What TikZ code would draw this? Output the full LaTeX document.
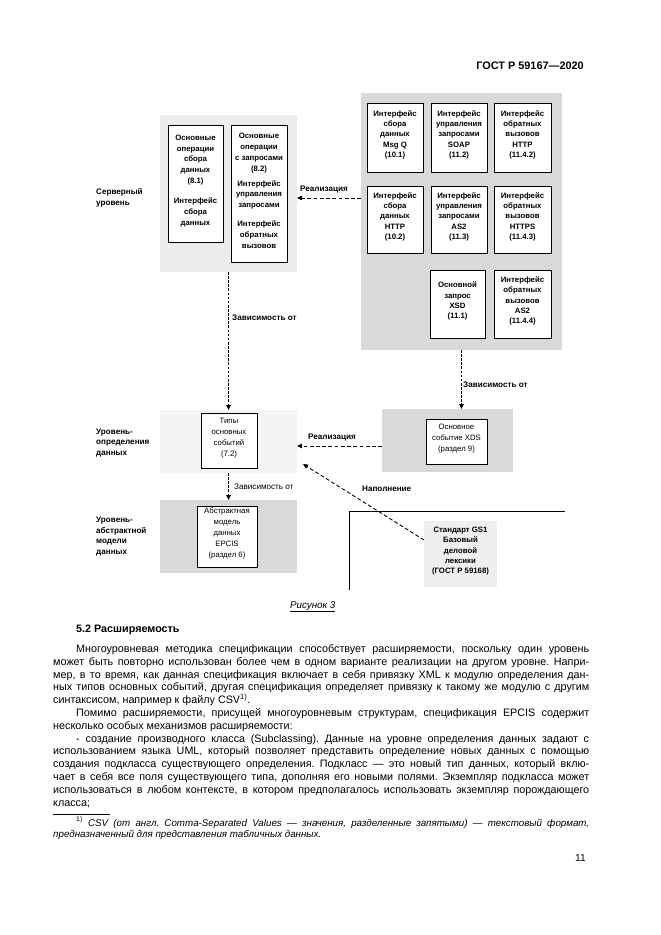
\documentclass[tikz,border=0pt]{standalone}
\usepackage{fontspec}
\setmainfont{Liberation Sans}
\usetikzlibrary{arrows.meta,fit}
\frenchspacing
\definecolor{pdark}{HTML}{D9D9D9}
\definecolor{plight}{HTML}{ECECEC}
\definecolor{pvlight}{HTML}{F4F4F4}
\definecolor{gsfill}{HTML}{EFEFEF}
\newcommand\fbx{\fontsize{7}{9.3}\selectfont\bfseries}
\newcommand\fbxr{\fontsize{7}{9.8}\selectfont\bfseries}
\newcommand\fbxn{\fontsize{7}{10}\selectfont}
\newcommand\flab{\fontsize{7.3}{9.6}\selectfont\bfseries}
\newcommand\flabn{\fontsize{7.3}{9.6}\selectfont}
\newcommand\jfull[1]{\makebox[482.4pt][s]{#1}}
\newcommand\jind[1]{\makebox[461.7pt][s]{#1}}
\begin{document}
\begin{tikzpicture}[x=0.9pt,y=-0.9pt,
  panel/.style={inner sep=0pt, outer sep=0pt},
  wbox/.style={draw=black, line width=0.55pt, fill=white, inner sep=0pt, outer sep=0pt, align=center},
  dep/.style={line width=1.2pt, dash pattern=on 2.4pt off 1.3pt, -{Triangle[length=4.5pt,width=4pt]}},
  real/.style={line width=0.8pt, dash pattern=on 3.4pt off 2.2pt, -{Triangle[length=4.5pt,width=4pt]}},
  lab/.style={inner sep=0pt, font=\flab, align=left},
  body/.style={anchor=base west, inner sep=0pt, font=\fontsize{9.7}{12}\selectfont},
  foot/.style={anchor=base west, inner sep=0pt, font=\fontsize{8.8}{10}\selectfont\itshape},
]
\useasboundingbox (0,0) rectangle (661,935);
\fill[white] (0,0) rectangle (661,935);

% header
\node[anchor=base east, inner sep=0pt, font=\fontsize{9.8}{12}\selectfont\bfseries] (hdr) at (584,69) {ГОСТ Р 59167—2020};

% ---------- service level ----------
\node[panel, fill=plight, fit={(160,115) (297,272)}] (srv) {};
\node[wbox, font=\fbxr, fit={(168,125) (223,242)}] (b81) {Основные\\операции\\сбора\\данных\\(8.1)\\[8pt]Интерфейс\\сбора\\данных};
\node[wbox, font=\fbxr, fit={(231,125) (287,262)}] (b82) {Основные\\операции\\с запросами\\(8.2)\\[3.5pt]Интерфейс\\управления\\запросами\\[7pt]Интерфейс\\обратных\\вызовов};

% ---------- implementation panel ----------
\node[panel, fill=pdark, fit={(361,93) (562,350)}] (impl) {};
\node[wbox, font=\fbx, fit={(367,103) (423,172)}] (a1) {Интерфейс\\сбора\\данных\\Msg Q\\(10.1)};
\node[wbox, font=\fbx, fit={(431,103) (487,172)}] (b1) {Интерфейс\\управления\\запросами\\SOAP\\(11.2)};
\node[wbox, font=\fbx, fit={(494,103) (551,172)}] (c1) {Интерфейс\\обратных\\вызовов\\HTTP\\(11.4.2)};
\node[wbox, font=\fbx, fit={(367,186) (423,253)}] (a2) {Интерфейс\\сбора\\данных\\HTTP\\(10.2)};
\node[wbox, font=\fbx, fit={(431,186) (487,253)}] (b2) {Интерфейс\\управления\\запросами\\AS2\\(11.3)};
\node[wbox, font=\fbx, fit={(494,186) (551,253)}] (c2) {Интерфейс\\обратных\\вызовов\\HTTPS\\(11.4.3)};
\node[wbox, font=\fbx, fit={(430,270) (485,338)}] (b3) {Основной\\запрос\\XSD\\(11.1)};
\node[wbox, font=\fbx, fit={(494,270) (551,338)}] (c3) {Интерфейс\\обратных\\вызовов\\AS2\\(11.4.4)};

% ---------- data definition level ----------
\node[panel, fill=pvlight, fit={(160,410) (297,473)}] (defp) {};
\node[wbox, font=\fbxn, fit={(201,413) (257,468)}] (types) {Типы\\основных\\событий\\(7.2)};

% ---------- abstract data model level ----------
\node[panel, fill=pdark, fit={(160,500) (297,573)}] (absp) {};
\node[wbox, font=\fbxn, fit={(197,506) (257,567)}] (abs) {Абстрактная\\модель\\данных\\EPCIS\\(раздел 6)};

% ---------- XDS ----------
\node[panel, fill=pdark, fit={(382,409) (513,472)}] (xdsp) {};
\node[wbox, font=\fbxn, fit={(426,419) (487,464)}] (xds) {Основное\\событие XDS\\(раздел 9)};

% ---------- GS1 ----------
\node[panel, fill=gsfill, align=center, font=\fbx, fit={(424,521) (497,587)}] (gs1) {Стандарт GS1\\Базовый\\деловой\\лексики\\(ГОСТ Р 59168)};
\draw[line width=0.6pt] (349,590) -- (349,511) -- (565,511);

% level labels
\node[lab, anchor=west] (lsrv) at (96,198) {Серверный\\уровень};
\node[lab, anchor=west] (ldef) at (96,443) {Уровень-\\определения\\данных};
\node[lab, anchor=west] (labs) at (96,536.5) {Уровень-\\абстрактной\\модели\\данных};

% connectors
\coordinate (r1) at (0,198);
\coordinate (r2) at (0,446);
\coordinate (g1) at (0,540);
\coordinate (nap) at (303,464);
\draw[real] (impl.west |- r1) -- (srv.east |- r1);
\draw[dep] (srv.south) -- (defp.north);
\draw[dep] (defp.south) -- (absp.north);
\draw[dep] (impl.south) -- (impl.south |- xdsp.north);
\draw[real] (xdsp.west |- r2) -- (defp.east |- r2);
\draw[real] (gs1.west |- g1) -- (nap);

% connector labels
\node[lab, anchor=base west] (lr1) at (300,191) {Реализация};
\node[lab, anchor=base west] (ld1) at (232,320) {Зависимость от};
\node[lab, anchor=base west, font=\flabn] (ld2) at (234,489) {Зависимость от};
\node[lab, anchor=base west] (ld3) at (463,387) {Зависимость от};
\node[lab, anchor=base west] (lr2) at (308,439) {Реализация};
\node[lab, anchor=base west] (lnap) at (362,491) {Наполнение};

% caption
\node[anchor=base west, inner sep=0pt, font=\fontsize{8.8}{10}\selectfont\itshape] (cap) at (290,608) {\underline{Рисунок 3}};

% ---------- text ----------
\node[anchor=base west, inner sep=0pt, font=\fontsize{9.7}{12}\selectfont\bfseries] (h52) at (76,632) {5.2 Расширяемость};
\node[body] (t1) at (76,652.5) {\jind{Многоуровневая методика спецификации способствует расширяемости, поскольку один уровень}};
\node[body] (t2) at (53,665.3) {\jfull{может быть повторно использован более чем в одном варианте реализации на другом уровне. Напри-}};
\node[body] (t3) at (53,678.1) {\jfull{мер, в то время, как данная спецификация включает в себя привязку XML к модулю определения дан-}};
\node[body] (t4) at (53,690.9) {\jfull{ных типов основных событий, другая спецификация определяет привязку к такому же модулю с другим}};
\node[body] (t5) at (53,703.7) {синтаксисом, например к файлу CSV\textsuperscript{1)}.};
\node[body] (t6) at (76,716.5) {\jind{Помимо расширяемости, присущей многоуровневым структурам, спецификация EPCIS содержит}};
\node[body] (t7) at (53,729.3) {несколько особых механизмов расширяемости:};
\node[body] (t8) at (76,742.1) {\jind{- создание производного класса (Subclassing). Данные на уровне определения данных задают с}};
\node[body] (t9) at (53,754.9) {\jfull{использованием языка UML, который позволяет представить определение новых данных с помощью}};
\node[body] (t10) at (53,767.7) {\jfull{создания подкласса существующего определения. Подкласс — это новый тип данных, который вклю-}};
\node[body] (t11) at (53,780.5) {\jfull{чает в себя все поля существующего типа, дополняя его новыми полями. Экземпляр подкласса может}};
\node[body] (t12) at (53,793.3) {\jfull{использоваться в любом контексте, в котором предполагалось использовать экземпляр порождающего}};
\node[body] (t13) at (53,806.1) {класса;};
\draw[line width=0.5pt] (53,814) -- (110,814);
\node[foot] (f1) at (76,826) {\jind{\textsuperscript{\upshape 1)} CSV (от англ. Comma-Separated Values — значения, разделенные запятыми) — текстовый формат,}};
\node[foot] (f2) at (53,837.5) {предназначенный для представления табличных данных.};
\node[anchor=base east, inner sep=0pt, font=\fontsize{9.2}{12}\selectfont] (pno) at (586,861) {11};
\end{tikzpicture}
\end{document}
